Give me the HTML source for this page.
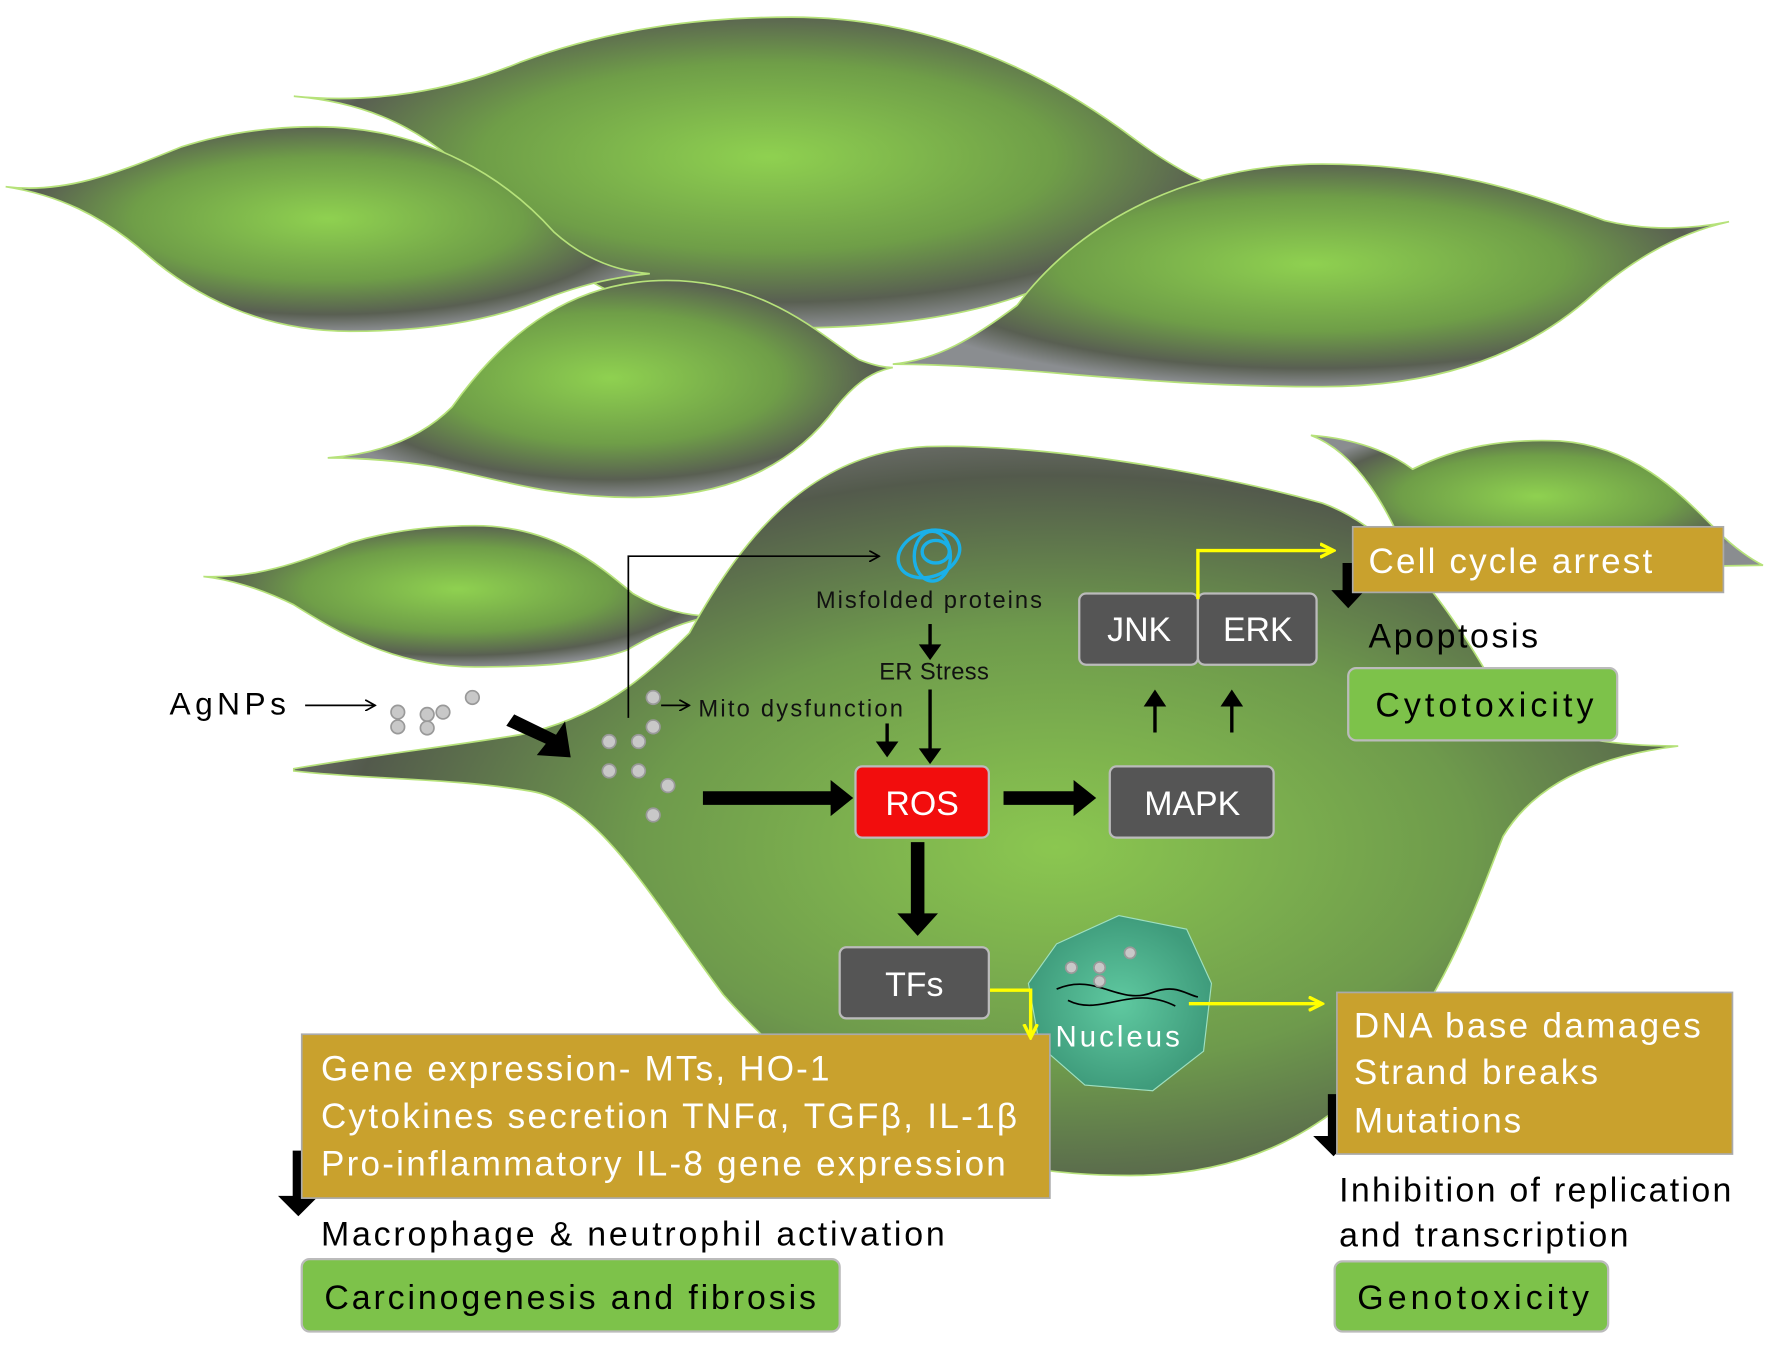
<!DOCTYPE html><html><head><style>html,body{margin:0;padding:0;background:#fff}svg{display:block}text{font-family:"Liberation Sans",sans-serif}</style></head><body>
<svg width="1772" height="1352" viewBox="0 0 1568 1196" xmlns="http://www.w3.org/2000/svg">
<defs>
<radialGradient id="g" cx="0.5" cy="0.45" r="0.55"><stop offset="0" stop-color="#8fd150"/><stop offset="0.55" stop-color="#6f9e48"/><stop offset="0.85" stop-color="#595f52"/><stop offset="1" stop-color="#8a8d90"/></radialGradient>
<radialGradient id="gb" cx="0.55" cy="0.55" r="0.6"><stop offset="0" stop-color="#8bc750"/><stop offset="0.5" stop-color="#6e9a4c"/><stop offset="0.85" stop-color="#535a4c"/><stop offset="1" stop-color="#777"/></radialGradient>
<radialGradient id="nu" cx="0.5" cy="0.5" r="0.5"><stop offset="0" stop-color="#5fc9a0"/><stop offset="1" stop-color="#3f9c7c"/></radialGradient>
<marker id="ah" markerWidth="10" markerHeight="10" refX="9" refY="5" orient="auto" markerUnits="userSpaceOnUse"><path d="M0,0 L9,5 L0,10" fill="none" stroke="#000" stroke-width="1.5"/></marker>
<marker id="ay" markerWidth="14" markerHeight="14" refX="12" refY="7" orient="auto" markerUnits="userSpaceOnUse"><path d="M0,1 L12,7 L0,13" fill="none" stroke="#ff0" stroke-width="3"/></marker>
</defs>
<g stroke="#b6e27a" stroke-width="1.5">
<path d="M260,85 C330,92 400,80 460,55 C540,25 620,15 700,15 C820,15 920,60 1000,120 C1040,150 1070,165 1100,172 C1060,172 1030,185 990,215 C920,270 820,290 700,290 C580,290 500,250 440,180 C380,110 320,90 260,85Z" fill="url(#g)"/>
<path d="M5,165 C60,172 110,150 160,130 C200,117 240,112 280,112 C380,112 450,160 490,205 C520,232 550,240 575,242 C545,245 520,250 480,265 C430,285 370,293 310,293 C230,293 170,260 130,225 C90,190 50,172 5,165Z" fill="url(#g)"/>
<path d="M790,322 C830,318 860,300 900,270 C960,190 1060,145 1170,145 C1280,145 1350,170 1420,195 C1460,205 1500,202 1530,196 C1490,205 1450,225 1410,260 C1350,315 1270,342 1170,342 C1040,342 950,330 870,325 C840,323 810,322 790,322Z" fill="url(#g)"/>
<path d="M290,405 C330,402 370,390 400,360 C450,290 510,248 590,248 C680,248 730,300 760,318 C770,322 780,325 790,325 C775,328 760,335 740,360 C700,415 640,440 560,440 C480,440 430,420 380,412 C340,406 310,405 290,405Z" fill="url(#g)"/>
<path d="M1160,385 C1200,388 1230,400 1250,415 C1290,395 1330,388 1380,390 C1450,395 1490,440 1520,470 C1535,485 1550,495 1560,500 L1250,505 C1230,450 1200,400 1160,385Z" fill="url(#g)"/>
<path d="M180,510 C230,512 270,495 310,480 C350,468 390,465 420,465 C490,465 530,500 560,525 C585,540 610,545 630,545 C605,550 580,560 555,575 C520,588 470,590 420,590 C350,590 300,560 260,535 C230,520 200,512 180,510Z" fill="url(#g)"/>
<path d="M260,680 C330,668 400,660 460,650 C530,635 570,600 610,560 C660,470 720,400 820,395 C930,392 1080,420 1170,445 C1240,470 1290,550 1330,620 C1360,650 1420,660 1485,660 C1420,668 1360,690 1330,740 C1290,840 1230,1040 1000,1040 C820,1040 720,970 640,880 C580,800 530,710 470,700 C400,688 330,690 260,682Z" fill="url(#gb)"/>
</g>
<path d="M935,835 L990,810 L1050,822 L1072,870 L1065,930 L1020,965 L960,960 L920,925 L910,870Z" fill="url(#nu)" stroke="#9fe0c0" stroke-width="1"/>
<path d="M935,875 C970,860 990,890 1020,878 C1040,870 1050,880 1060,882 M945,885 C975,900 1000,870 1040,890" fill="none" stroke="#000" stroke-width="1.5"/>
<text x="934" y="926" font-size="26" fill="#fff" textLength="110">Nucleus</text>
<g fill="#c8c8c8" stroke="#999" stroke-width="1.5">
<circle cx="352" cy="630" r="6"/><circle cx="352" cy="643" r="6"/><circle cx="378" cy="632" r="6"/><circle cx="378" cy="644" r="6"/><circle cx="392" cy="630" r="6"/><circle cx="418" cy="617" r="6"/>
<circle cx="578" cy="617" r="6"/><circle cx="578" cy="643" r="6"/><circle cx="565" cy="656" r="6"/><circle cx="539" cy="656" r="6"/><circle cx="539" cy="682" r="6"/><circle cx="565" cy="682" r="6"/><circle cx="591" cy="695" r="6"/><circle cx="578" cy="721" r="6"/>
<circle cx="948" cy="856" r="5"/><circle cx="973" cy="856" r="5"/><circle cx="973" cy="868" r="5"/><circle cx="1000" cy="843" r="5"/>
</g>
<g fill="none" stroke="#1ab0e8" stroke-width="3"><ellipse cx="822" cy="490" rx="28" ry="20" transform="rotate(-20 822 490)"/><ellipse cx="825" cy="492" rx="16" ry="22"/><ellipse cx="828" cy="488" rx="12" ry="10"/></g>
<g font-size="21" fill="#111">
<text x="722" y="538" textLength="200">Misfolded proteins</text>
<text x="778" y="601" textLength="97">ER Stress</text>
<text x="618" y="634" textLength="181">Mito dysfunction</text>
</g>
<text x="150" y="632" font-size="28" fill="#000" textLength="103">AgNPs</text>
<g stroke="#000" stroke-width="1.5" fill="none">
<line x1="270" y1="624" x2="332" y2="624" marker-end="url(#ah)"/>
<polyline points="556,635 556,492 778,492" marker-end="url(#ah)"/>
<line x1="585" y1="624" x2="610" y2="624" marker-end="url(#ah)"/>
</g>
<g stroke="#000" stroke-width="3" fill="none">
<line x1="823" y1="552" x2="823" y2="580"/><line x1="823" y1="610" x2="823" y2="672"/><line x1="785" y1="640" x2="785" y2="665"/>
<line x1="1022" y1="648" x2="1022" y2="618"/><line x1="1090" y1="648" x2="1090" y2="618"/>
</g>
<g fill="#000">
<path d="M813,570 L823,584 L833,570Z"/><path d="M813,662 L823,676 L833,662Z"/><path d="M775,656 L785,670 L795,656Z"/>
<path d="M1012,625 L1022,610 L1032,625Z"/><path d="M1080,625 L1090,610 L1100,625Z"/>
<path d="M455,632 L492,650 L500,638 L505,670 L475,668 L483,658 L448,642Z"/>
<path d="M622,700 L735,700 L735,690 L755,706 L735,722 L735,712 L622,712Z"/>
<path d="M888,700 L950,700 L950,690 L970,706 L950,722 L950,712 L888,712Z"/>
<path d="M806,745 L818,745 L818,808 L830,808 L812,828 L794,808 L806,808Z"/>
<path d="M1188,498 L1198,498 L1198,522 L1208,522 L1193,538 L1178,522 L1188,522Z"/>
<path d="M259,1018 L270,1018 L270,1058 L282,1058 L264,1076 L246,1058 L259,1058Z"/>
<path d="M1175,968 L1186,968 L1186,1005 L1198,1005 L1180,1023 L1162,1005 L1175,1005Z"/>
</g>
<g stroke="#bbb" stroke-width="2">
<rect x="757" y="678" width="118" height="63" rx="6" fill="#f20d0d"/>
<rect x="982" y="678" width="145" height="63" rx="6" fill="#555"/>
<rect x="955" y="525" width="105" height="63" rx="6" fill="#555"/>
<rect x="1060" y="525" width="105" height="63" rx="6" fill="#555"/>
<rect x="743" y="838" width="132" height="63" rx="6" fill="#555"/>
</g>
<g font-size="30" fill="#fff" text-anchor="middle">
<text x="816" y="721">ROS</text><text x="1055" y="721">MAPK</text><text x="1008" y="567">JNK</text><text x="1113" y="567">ERK</text><text x="809" y="881">TFs</text>
</g>
<g fill="#c9a12d" stroke="#aaa" stroke-width="1.5">
<rect x="1197" y="466" width="328" height="58"/>
<rect x="267" y="915" width="662" height="145"/>
<rect x="1183" y="878" width="350" height="143"/>
</g>
<g fill="#7dc24a" stroke="#bbb" stroke-width="2">
<rect x="1193" y="591" width="238" height="64" rx="7"/>
<rect x="267" y="1114" width="476" height="64" rx="7"/>
<rect x="1181" y="1116" width="242" height="62" rx="7"/>
</g>
<g font-size="31" fill="#fff">
<text x="1211" y="507" textLength="251">Cell cycle arrest</text>
<text x="284" y="956" textLength="450">Gene expression- MTs, HO-1</text>
<text x="284" y="998" textLength="616">Cytokines secretion TNFα, TGFβ, IL-1β</text>
<text x="284" y="1040" textLength="606">Pro-inflammatory  IL-8 gene expression</text>
<text x="1198" y="918" textLength="307">DNA base damages</text>
<text x="1198" y="959" textLength="216">Strand breaks</text>
<text x="1198" y="1002" textLength="148">Mutations</text>
</g>
<g font-size="30" fill="#000">
<text x="1211" y="573" textLength="150">Apoptosis</text>
<text x="1217" y="634" textLength="193">Cytotoxicity</text>
<text x="284" y="1102" textLength="552">Macrophage &amp; neutrophil activation</text>
<text x="287" y="1158" textLength="435">Carcinogenesis and fibrosis</text>
<text x="1185" y="1063" textLength="347">Inhibition of replication</text>
<text x="1185" y="1103" textLength="256">and transcription</text>
<text x="1201" y="1158" textLength="205">Genotoxicity</text>
</g>
<g stroke="#ff0" stroke-width="3" fill="none">
<polyline points="1060,530 1060,487 1180,487" marker-end="url(#ay)"/>
<polyline points="876,876 912,876 912,918" marker-end="url(#ay)"/>
<line x1="1052" y1="888" x2="1170" y2="888" marker-end="url(#ay)"/>
</g>
</svg>
</body></html>
